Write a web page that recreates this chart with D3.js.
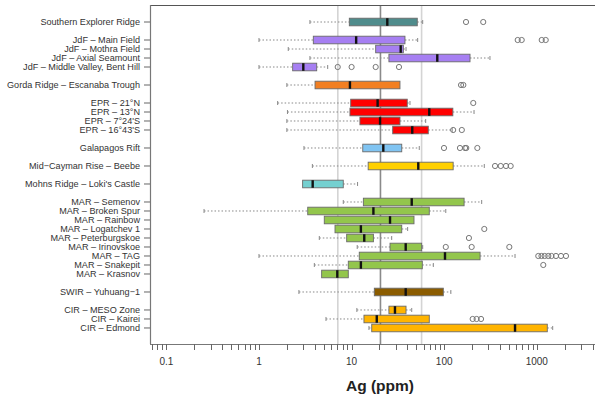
<!DOCTYPE html>
<html><head><meta charset="utf-8">
<script src="https://cdn.jsdelivr.net/npm/d3@7"></script>
<style>body{margin:0;background:#fff}svg{display:block;font-family:"Liberation Sans",Arial,sans-serif}</style>
</head><body><svg id="c" width="595" height="399"></svg>
<script>
const groups = ["SER","JdF","Gorda","EPR","Gal","Cay","Mohns","MAR","SWIR","CIR"];
const groupColors = ["#4f8c8c","#a67ff2","#f27f22","#ff0000","#80c4f2","#ffd000","#74d0d0","#93c64c","#8b5c00","#ffb400"];
const sites = ["Southern Explorer Ridge","JdF – Main Field","JdF – Mothra Field","JdF – Axial Seamount","JdF – Middle Valley, Bent Hill","Gorda Ridge – Escanaba Trough","EPR – 21°N","EPR – 13°N","EPR – 7°24'S","EPR – 16°43'S","Galapagos Rift","Mid−Cayman Rise – Beebe","Mohns Ridge – Loki's Castle","MAR – Semenov","MAR – Broken Spur","MAR – Rainbow","MAR – Logatchev 1","MAR – Peterburgskoe","MAR – Irinovskoe","MAR – TAG","MAR – Snakepit","MAR – Krasnov","SWIR – Yuhuang−1","CIR – MESO Zone","CIR – Kairei","CIR – Edmond"];
const siteGroup = [0,1,1,1,1,2,3,3,3,3,4,5,6,7,7,7,7,7,7,7,7,7,8,9,9,9];
const lowWhisker = [3.55,1.0,2.07,3.55,1.0,2.0,1.59,2.03,2.0,2.0,3.06,3.77,2.96,8.13,0.255,5.07,6.62,4.48,11.5,1.0,3.96,4.75,2.7,11.4,5.29,15.4];
const q1 = [9.45,3.86,18.2,25.3,2.31,4.03,9.78,9.6,12.3,27.8,13.2,15.1,2.96,13.4,3.36,5.07,6.62,8.85,26,12.1,9.21,4.75,17.6,25.3,13.6,16.5];
const median = [24.3,11.2,33.9,84.2,3.01,9.6,19.1,69,20.3,45.2,22.0,52.5,3.8,44.6,17.2,26,12.6,13.7,38.4,102,12.6,7.01,38.4,29.4,18.7,582];
const q3 = [51.2,37.7,36.2,190,4.2,33.3,39.9,124,33.3,67.3,34.8,125,8.13,164,69,47.2,34.8,17.2,57.1,244,58,9.21,97.8,38.7,69,1298];
const highWhisker = [58.6,51.7,38.7,312,5.52,33.3,42.7,210,63.1,122,53.8,271,11.6,254,104,47.2,40.3,27.1,58.6,582,76.3,9.21,118,44.6,69,1485];
const outliers = [[172,264],[622,687,1130,1248],[],[],[7.08,10.0,18.2,32.5],[152,161],[206],[],[],[125,155],[99.5,148,168,173,228],[354,408,465,522],[],[],[],[],[271],[185],[104,198,505],[1038,1123,1215,1331,1440,1611,1825,2066],[1175],[],[],[],[203,224,250],[]];
const refLines = [7.1,20.5,57];
const majorTicks = [0.1,1,10,100,1000];
const tickLabels = ["0.1","1","10","100","1000"];
const axisTitle = "Ag (ppm)";

// row positions: +1 within group, +2 between groups
const pos = [];
siteGroup.forEach((g,i)=>{ pos.push(i===0?0:pos[i-1]+(g===siteGroup[i-1]?1:2)); });

const svg = d3.select("#c");
const L=150, R=610, T=5, B=344;
const x = d3.scaleLog().domain([0.06653,6173]).range([L,R]);
const y = d3.scaleLinear().domain([-1.89,35.78]).range([T,B]);
const bh = 7.6;

// ref lines
svg.selectAll("line.ref").data(refLines).join("line")
  .attr("x1",d=>x(d)).attr("x2",d=>x(d)).attr("y1",T).attr("y2",B)
  .attr("stroke",(d,i)=>i===1?"#8a8a8a":"#d4d4d4").attr("stroke-width",1.6);

// frame
svg.append("line").attr("x1",L).attr("x2",595).attr("y1",T+0.5).attr("y2",T+0.5).attr("stroke","#555").attr("stroke-width",1);
svg.append("line").attr("x1",L+0.5).attr("x2",L+0.5).attr("y1",T).attr("y2",B).attr("stroke","#777").attr("stroke-width",1.2);
svg.append("line").attr("x1",L).attr("x2",595).attr("y1",B+0.5).attr("y2",B+0.5).attr("stroke","#777").attr("stroke-width",1.2);

// x ticks
const minor = [];
for (let e=-2;e<=3;e++) for (let m=1;m<=9;m++){ const v=m*Math.pow(10,e); if (x(v)>=L+1 && x(v)<=595) minor.push(v); }
svg.selectAll("line.xt").data(minor).join("line")
  .attr("x1",d=>Math.round(x(d))+0.5).attr("x2",d=>Math.round(x(d))+0.5).attr("y1",B).attr("y2",B+6)
  .attr("stroke","#666").attr("stroke-width",1);
svg.selectAll("text.xl").data(majorTicks).join("text")
  .attr("x",d=>x(d)).attr("y",365).attr("text-anchor","middle").attr("font-size",10).attr("fill","#333")
  .text((d,i)=>tickLabels[i]);
svg.append("text").attr("x",(L+R)/2).attr("y",391).attr("text-anchor","middle")
  .attr("font-size",15.5).attr("font-weight","bold").attr("fill","#222").text(axisTitle);

// y ticks + labels
const rows = sites.map((s,i)=>({s,i,p:pos[i]}));
svg.selectAll("line.yt").data(rows).join("line")
  .attr("x1",144).attr("x2",L).attr("y1",d=>y(d.p)).attr("y2",d=>y(d.p)).attr("stroke","#666");
svg.selectAll("text.yl").data(rows).join("text")
  .attr("x",140).attr("y",d=>y(d.p)).attr("dy","0.35em").attr("text-anchor","end")
  .attr("font-size",9.1).attr("fill","#333").text(d=>d.s);

// boxes
const g = svg.selectAll("g.box").data(rows).join("g");
// whiskers
g.each(function(d){
  const el=d3.select(this), i=d.i, yc=y(d.p);
  const segs=[[lowWhisker[i],q1[i]],[q3[i],highWhisker[i]]];
  segs.forEach(([a,b])=>{
    if (x(b)-x(a) < 1) return;
    el.append("line").attr("x1",x(a)).attr("x2",x(b)).attr("y1",yc).attr("y2",yc)
      .attr("stroke","#888").attr("stroke-width",1).attr("stroke-dasharray","1.5,2");
  });
  [lowWhisker[i],highWhisker[i]].forEach((v,k)=>{
    const other = k===0?q1[i]:q3[i];
    if (Math.abs(x(v)-x(other))<1) return;
    el.append("line").attr("x1",x(v)).attr("x2",x(v)).attr("y1",yc-2).attr("y2",yc+2)
      .attr("stroke","#888").attr("stroke-width",1);
  });
  el.append("rect").attr("x",x(q1[i])).attr("y",yc-bh/2).attr("width",x(q3[i])-x(q1[i])).attr("height",bh)
    .attr("fill",groupColors[siteGroup[i]]).attr("stroke","#6a6a6a").attr("stroke-width",0.9);
  el.append("line").attr("x1",x(median[i])).attr("x2",x(median[i])).attr("y1",yc-bh/2).attr("y2",yc+bh/2)
    .attr("stroke","#111").attr("stroke-width",2.4);
  el.selectAll("circle").data(outliers[i]).join("circle")
    .attr("cx",v=>x(v)).attr("cy",yc).attr("r",2.6)
    .attr("fill","none").attr("stroke","#777").attr("stroke-width",1);
});
</script></body></html>
